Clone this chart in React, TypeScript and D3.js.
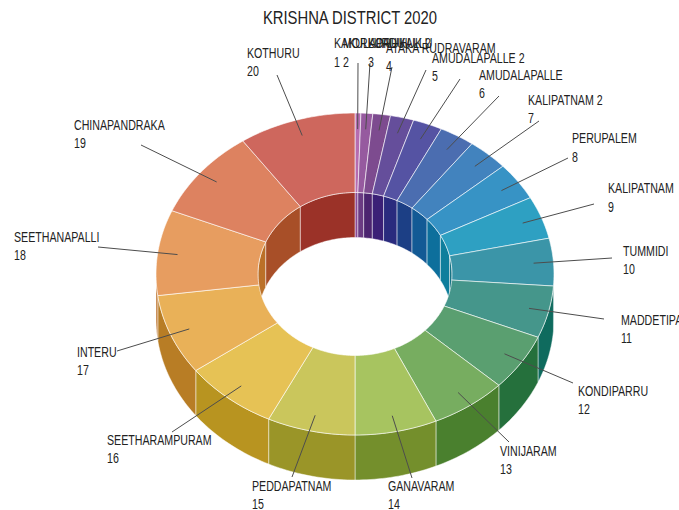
import React from "react";
import * as d3 from "d3";

// Villages and their values, clockwise from twelve o'clock.
const villages = [
  "KAKULAPADU", "MORLURU HUK 2", "KORUKALLU", "ATAKA RUDRAVARAM", "AMUDALAPALLE 2",
  "AMUDALAPALLE", "KALIPATNAM 2", "PERUPALEM", "KALIPATNAM", "TUMMIDI",
  "MADDETIPALLI", "KONDIPARRU", "VINIJARAM", "GANAVARAM", "PEDDAPATNAM",
  "SEETHARAMPURAM", "INTERU", "SEETHANAPALLI", "CHINAPANDRAKA", "KOTHURU",
];
const counts = [1, 2, 3, 4, 5, 6, 7, 8, 9, 10, 11, 12, 13, 14, 15, 16, 17, 18, 19, 20];

const topColors = [
  "#b56cb0", "#965a9f", "#7d4b8f", "#654e9b", "#5553a3", "#4b6db0", "#4283be", "#3793c5", "#2ea0c2", "#3b95a8",
  "#45968b", "#5a9f70", "#77ad60", "#a7c460", "#cac65c", "#e6c255", "#e9b158", "#e79d60", "#dd8260", "#ce675d",
];
const wallColors = [
  "#8a4a96", "#6b3b83", "#4c2470", "#3b2076", "#2a2b7e", "#1c3f85", "#135a95", "#0d6f9c", "#0e7e9c", "#0e6f80",
  "#0f6b5e", "#25703c", "#4a802e", "#748f2c", "#9a9528", "#b89420", "#b87d25", "#bb7028", "#a84f28", "#9b3228",
];

// Label anchors: text x, name baseline, number baseline, then the outer end of the leader.
const labelLayout = [
  [334, 48, 67, 358, 63], [343, 48, 67, 370, 63], [368, 48, 67, 392, 67], [386, 53, 71, 426, 70],
  [432, 63, 81, 460, 79], [479, 80, 98, 499, 96], [528, 105, 123, 539, 121], [572, 143, 162, 568, 158],
  [608, 193, 212, 594, 204], [623, 256, 274, 612, 258], [621, 325, 343, 604, 319], [578, 396, 414, 573, 383],
  [500, 456, 474, 509, 442], [388, 491, 509, 412, 478], [252, 491, 509, 292, 477], [107, 445, 463, 172, 432],
  [77, 357, 375, 117, 351], [14, 242, 260, 98, 247], [74, 130, 148, 141, 145], [247, 58, 76, 277, 75],
];

const width = 679;
const height = 510;
const cx = 355;
const cy = 274;
const outerRx = 199;
const outerRy = 161;
const innerRx = 97;
const innerRy = 81.5;
const depth = 45;
const leaderRadius = 0.9;
const labelFont = "'Liberation Sans Narrow', 'Liberation Sans', sans-serif";
const textSquash = 0.76;

const onEllipse = (a: number, rx: number, ry: number, dy = 0): [number, number] => [
  cx + rx * Math.sin(a),
  cy - ry * Math.cos(a) + dy,
];

const arcPoints = (a0: number, a1: number, rx: number, ry: number, dy = 0) => {
  const n = Math.max(2, Math.ceil(Math.abs(a1 - a0) / 0.02));
  return d3.range(n + 1).map((i) => onEllipse(a0 + ((a1 - a0) * i) / n, rx, ry, dy));
};

const polygon = d3.line().curve(d3.curveLinear);
const closed = (pts: [number, number][]) => polygon(pts) + "Z";

const band = (a0: number, a1: number, rx: number, ry: number) =>
  closed([...arcPoints(a0, a1, rx, ry), ...arcPoints(a1, a0, rx, ry, depth)]);

const slices = d3.pie<number>().sort(null).value((d) => d)(counts);
const divider = "rgba(255,255,255,0.6)";

export default function App() {
  const pi = Math.PI;
  return (
    <svg
      width={width}
      height={height}
      viewBox={`0 0 ${width} ${height}`}
      style={{ position: "absolute", left: 0, top: 0, background: "#fff" }}
    >
      {/* outer wall, lower half of the ring only */}
      {slices.map((s, i) => {
        const a0 = Math.max(s.startAngle, pi / 2);
        const a1 = Math.min(s.endAngle, (3 * pi) / 2);
        return a1 > a0 ? (
          <path key={i} d={band(a0, a1, outerRx, outerRy)} fill={wallColors[i]} stroke={divider} strokeWidth={0.8} />
        ) : null;
      })}
      {/* inner wall, seen through the hole on the far side */}
      {slices.flatMap((s, i) =>
        [
          [s.startAngle, Math.min(s.endAngle, pi / 2)],
          [Math.max(s.startAngle, (3 * pi) / 2), s.endAngle],
        ]
          .filter(([a0, a1]) => a1 > a0)
          .map(([a0, a1], j) => (
            <path
              key={`${i}-${j}`}
              d={band(a0, a1, innerRx, innerRy)}
              fill={wallColors[i]}
              stroke={divider}
              strokeWidth={0.8}
            />
          ))
      )}
      {/* top face */}
      {slices.map((s, i) => (
        <path
          key={i}
          d={closed([
            ...arcPoints(s.startAngle, s.endAngle, outerRx, outerRy),
            ...arcPoints(s.endAngle, s.startAngle, innerRx, innerRy),
          ])}
          fill={topColors[i]}
          stroke={divider}
          strokeWidth={1}
        />
      ))}
      {/* leaders */}
      {slices.map((s, i) => {
        const mid = (s.startAngle + s.endAngle) / 2;
        const [x1, y1] = onEllipse(mid, outerRx * leaderRadius, outerRy * leaderRadius);
        const [, , , x2, y2] = labelLayout[i];
        return <line key={i} x1={x1} y1={y1} x2={x2} y2={y2} stroke="#4d4d4d" strokeWidth={1} />;
      })}
      {/* labels */}
      {villages.map((name, i) => {
        const [x, nameY, numberY] = labelLayout[i];
        return (
          <g key={name} fontFamily={labelFont} fontSize={14} fill="#222">
            <text transform={`translate(${x},${nameY}) scale(${textSquash},1)`}>{name}</text>
            <text transform={`translate(${x},${numberY}) scale(${textSquash},1)`}>{counts[i]}</text>
          </g>
        );
      })}
      <text
        transform={`translate(350,24) scale(0.78,1)`}
        textAnchor="middle"
        fontFamily={labelFont}
        fontSize={19}
        fill="#222"
      >
        KRISHNA DISTRICT 2020
      </text>
    </svg>
  );
}
